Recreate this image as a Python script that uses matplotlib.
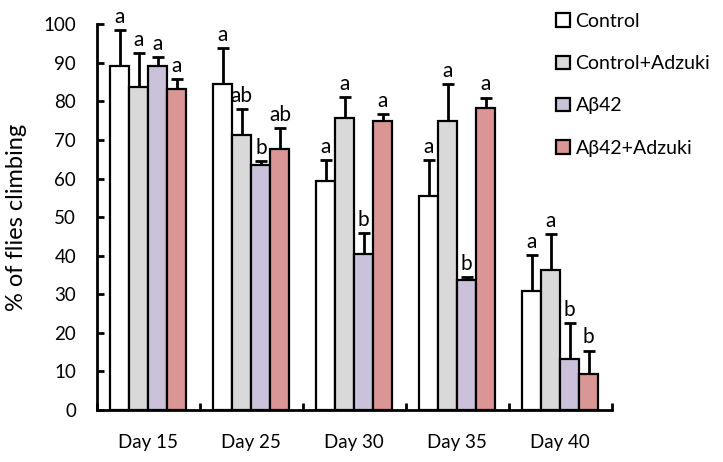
import matplotlib

matplotlib.use("Agg")

import matplotlib.pyplot as plt
import numpy as np

plt.rcParams["font.family"] = ["Lato", "DejaVu Sans"]

days = ["Day 15", "Day 25", "Day 30", "Day 35", "Day 40"]
groups = ["Control", "Control+Adzuki", "Aβ42", "Aβ42+Adzuki"]

control = [89.2, 84.5, 59.3, 55.4, 30.9]
control_adzuki = [83.6, 71.2, 75.6, 74.9, 36.4]
abeta = [89.2, 63.6, 40.4, 33.7, 13.1]
abeta_adzuki = [83.3, 67.6, 74.9, 78.4, 9.2]

control_err = [9.4, 9.4, 5.5, 9.4, 9.3]
control_adzuki_err = [9.0, 6.8, 5.6, 9.6, 9.2]
abeta_err = [2.2, 0.9, 5.4, 0.7, 9.4]
abeta_adzuki_err = [2.5, 5.6, 1.9, 2.6, 6.2]

control_sig = ["a", "a", "a", "a", "a"]
control_adzuki_sig = ["a", "ab", "a", "a", "a"]
abeta_sig = ["a", "b", "b", "b", "b"]
abeta_adzuki_sig = ["a", "ab", "a", "a", "b"]

colors = ["#ffffff", "#d9d9d9", "#ccc1da", "#d99694"]

values = [control, control_adzuki, abeta, abeta_adzuki]
errors = [control_err, control_adzuki_err, abeta_err, abeta_adzuki_err]
letters = [control_sig, control_adzuki_sig, abeta_sig, abeta_adzuki_sig]

fig = plt.figure(figsize=(7.23, 4.62), dpi=100)
ax = fig.add_axes([0.134, 0.1126, 0.712, 0.835])

x = np.arange(len(days))
width = 0.185
for i, (vals, errs, sig, color, label) in enumerate(zip(values, errors, letters, colors, groups)):
    pos = x + (i - 1.5) * width
    ax.bar(pos, vals, width, color=color, edgecolor="black", linewidth=1.6,
           label=label, zorder=2)
    ax.errorbar(pos, vals, yerr=[np.zeros(len(errs)), errs], fmt="none",
                ecolor="black", elinewidth=2, capsize=4, capthick=2, zorder=1)
    for p, v, e, s in zip(pos, vals, errs, sig):
        ax.text(p, v + e + 0.8, s, ha="center", va="bottom", fontsize=15)

ax.set_xlim(-0.5, len(days) - 0.5)
ax.set_ylim(0, 100)
ax.set_yticks(range(0, 101, 10))
ax.set_xticks(x)
ax.set_xticklabels(days)
ax.set_xticks(np.arange(-0.5, len(days)), minor=True)
ax.tick_params(axis="x", which="major", length=0, labelsize=13.5, pad=17)
ax.tick_params(axis="x", which="minor", direction="in", length=5, width=2)
ax.tick_params(axis="y", direction="in", length=5, width=2, labelsize=13.5, pad=15)
ax.set_ylabel("% of flies climbing", fontsize=17, labelpad=12)

for side in ["top", "right"]:
    ax.spines[side].set_visible(False)
for side in ["left", "bottom"]:
    ax.spines[side].set_linewidth(2)

ax.legend(loc="upper left", bbox_to_anchor=(556 / 723, 0.972),
          bbox_transform=fig.transFigure, frameon=False,
          fontsize=14, handlelength=0.7, handleheight=0.7, handletextpad=0.3,
          labelspacing=1.3, borderaxespad=0, borderpad=0)

fig.savefig("out.png", dpi=100)
